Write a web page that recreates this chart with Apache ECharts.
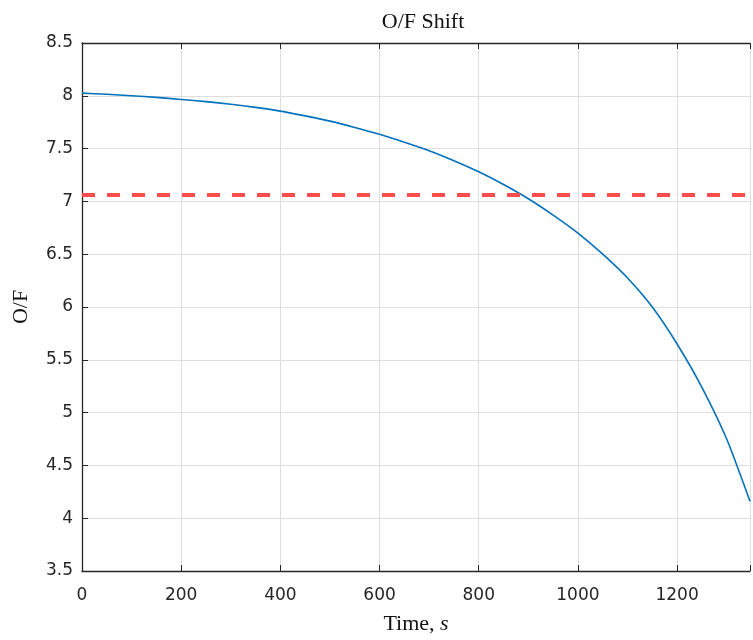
<!DOCTYPE html>
<html>
<head>
<meta charset="utf-8">
<script src="https://cdn.jsdelivr.net/npm/echarts@6/dist/echarts.min.js"></script>
<style>
  html, body { margin: 0; padding: 0; background: #fff; }
  #chart { width: 753px; height: 640px; }
</style>
</head>
<body>
<div id="chart"></div>
<script>
// values
var timeVals = [0, 50, 100, 150, 200, 250, 300, 350, 400, 450, 500, 550, 600, 650, 700,
    750, 800, 850, 900, 950, 1000, 1050, 1100, 1150, 1200, 1250, 1300, 1347];
var ofVals = [8.025, 8.015, 8.00, 7.985, 7.965, 7.945, 7.92, 7.89, 7.855, 7.81, 7.76, 7.70, 7.635, 7.56, 7.48,
    7.385, 7.28, 7.16, 7.025, 6.87, 6.70, 6.50, 6.275, 6.00, 5.65, 5.24, 4.75, 4.16];
var refTime = [0, 1347];
var refOF = [7.06, 7.06];
var xTicks = [0, 200, 400, 600, 800, 1000, 1200];

var axisCol = '#262626';
var gridCol = '#dedede';
var serif = 'Liberation Serif';

var myChart = echarts.init(document.getElementById('chart'));

var curve = [];
for (var i = 0; i < timeVals.length; i++) {
    curve.push([timeVals[i], ofVals[i]]);
}
var ref = [];
for (var j = 0; j < refTime.length; j++) {
    ref.push([refTime[j], refOF[j]]);
}

myChart.setOption({
    animation: false,
    title: {
        text: 'O/F Shift',
        left: 418,
        textAlign: 'center',
        top: 6,
        textStyle: { fontFamily: serif, fontWeight: 'normal', fontSize: 22, color: '#111' }
    },
    grid: { left: 82, top: 43, right: 0, bottom: 62 },
    xAxis: [{
        type: 'value',
        min: 0,
        max: 1347,
        interval: 200,
        name: '{n|Time, }{i|s}',
        nameLocation: 'middle',
        nameGap: 42,
        nameTextStyle: {
            rich: {
                n: { fontFamily: serif, fontSize: 22, color: '#111' },
                i: { fontFamily: serif, fontStyle: 'italic', fontSize: 22, color: '#111' }
            }
        },
        axisLine: { show: true, lineStyle: { color: axisCol, width: 1.3 } },
        axisTick: { show: true, inside: true, length: 6, lineStyle: { color: axisCol } },
        axisLabel: {
            margin: 16,
            fontFamily: 'DejaVu Sans',
            fontSize: 17,
            color: axisCol,
            formatter: function (v) { return xTicks.indexOf(v) >= 0 ? String(v) : ''; }
        },
        splitLine: { show: true, lineStyle: { color: gridCol, width: 1 } }
    }, {
        type: 'value',
        position: 'top',
        min: 0,
        max: 1347,
        interval: 200,
        axisLine: { show: true, lineStyle: { color: axisCol, width: 1.3 } },
        axisTick: { show: true, inside: true, length: 6, lineStyle: { color: axisCol } },
        axisLabel: { show: false },
        splitLine: { show: false }
    }],
    yAxis: {
        type: 'value',
        min: 3.5,
        max: 8.5,
        interval: 0.5,
        name: 'O/F',
        nameLocation: 'middle',
        nameGap: 50,
        nameTextStyle: { fontFamily: serif, fontSize: 22, color: '#111' },
        axisLine: { show: true, lineStyle: { color: axisCol, width: 1.3 } },
        axisTick: { show: true, inside: true, length: 6, lineStyle: { color: axisCol } },
        axisLabel: {
            margin: 9,
            padding: [7, 0, 0, 0],
            fontFamily: 'DejaVu Sans',
            fontSize: 17,
            color: axisCol
        },
        splitLine: { show: true, lineStyle: { color: gridCol, width: 1 } }
    },
    series: [{
        type: 'line',
        data: curve,
        smooth: 0.2,
        showSymbol: false,
        lineStyle: { color: '#0072BD', width: 1.6 },
        z: 3
    }, {
        type: 'line',
        data: ref,
        showSymbol: false,
        lineStyle: { color: '#ff4d4d', width: 4, type: [13, 12] },
        z: 4
    }]
});
</script>
</body>
</html>
